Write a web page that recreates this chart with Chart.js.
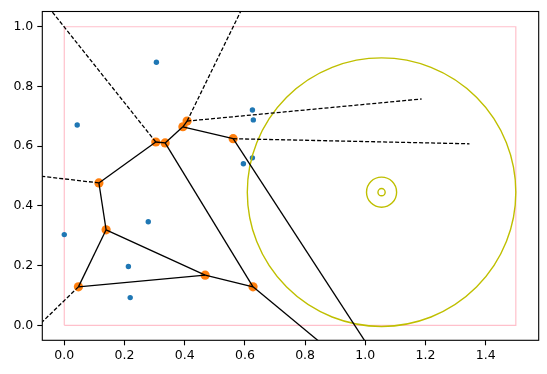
<!DOCTYPE html>
<html>
<head>
<meta charset="utf-8">
<script src="https://cdn.jsdelivr.net/npm/chart.js@4.4.0/dist/chart.umd.min.js"></script>
<style>
  html, body { margin: 0; padding: 0; background: #fff; }
  #voronoi_chart { display: block; }
</style>
</head>
<body>
<canvas id="voronoi_chart" width="547" height="374"></canvas>
<script>
// input points (blue)
const points_x = [0.306, 0.043, 0.625, 0.628, 0.625, 0.595, 0.000, 0.279, 0.213, 0.219];
const points_y = [0.881, 0.671, 0.721, 0.688, 0.561, 0.541, 0.304, 0.347, 0.197, 0.093];

// voronoi vertices (orange); the last one lies below the view
const vertices_x = [0.304, 0.335, 0.394, 0.408, 0.561, 0.115, 0.139, 0.047, 0.468, 0.627, 1.178];
const vertices_y = [0.614, 0.611, 0.665, 0.684, 0.625, 0.477, 0.320, 0.129, 0.168, 0.129, -0.330];

// finite ridges, as vertex index pairs
const ridges = [[5, 0], [0, 1], [1, 2], [2, 3], [2, 4], [1, 9], [4, 10], [9, 10],
                [5, 6], [6, 7], [6, 8], [7, 8], [8, 9]];

// infinite ridges: start vertex and far point
const far_start = [0, 3, 3, 4, 5, 7];
const far_x = [-0.214, 0.675, 1.187, 1.346, -0.167, -0.133];
const far_y = [1.270, 1.235, 0.758, 0.608, 0.510, -0.047];

// bounding box and circles
const box_x = [0, 1.5, 1.5, 0, 0];
const box_y = [0, 0, 1, 1, 0];
const circle_x = [1.054, 1.054, 1.054];
const circle_y = [0.446, 0.446, 0.446];
const circle_r = [0.446, 0.05, 0.012];

const x_ticks = [0.0, 0.2, 0.4, 0.6, 0.8, 1.0, 1.2, 1.4];
const y_ticks = [0.0, 0.2, 0.4, 0.6, 0.8, 1.0];

function xy(xs, ys) {
    return xs.map((x, i) => ({x: x, y: ys[i]}));
}

let datasets = [];

ridges.forEach(function (r) {
    datasets.push({
        data: [{x: vertices_x[r[0]], y: vertices_y[r[0]]}, {x: vertices_x[r[1]], y: vertices_y[r[1]]}],
        showLine: true, borderColor: '#000', borderWidth: 1.3, pointRadius: 0, clip: 0, order: 0,
    });
});

far_start.forEach(function (v, i) {
    datasets.push({
        data: [{x: vertices_x[v], y: vertices_y[v]}, {x: far_x[i], y: far_y[i]}],
        showLine: true, borderColor: '#000', borderWidth: 1.3, borderDash: [4, 2],
        pointRadius: 0, clip: 0, order: 0,
    });
});

datasets.push({
    data: xy(circle_x, circle_y),
    pointRadius: function (ctx) {
        const s = ctx.chart.scales.x;
        return Math.abs(s.getPixelForValue(circle_r[ctx.dataIndex]) - s.getPixelForValue(0));
    },
    pointBackgroundColor: 'rgba(0,0,0,0)',
    pointBorderColor: '#bfbf00',
    pointBorderWidth: 1.4,
    clip: 0, order: 1,
});

datasets.push({
    data: xy(vertices_x, vertices_y),
    pointRadius: 4.6, pointBorderWidth: 0, pointBackgroundColor: '#ff7f0e', clip: 0, order: 2,
});

datasets.push({
    data: xy(points_x, points_y),
    pointRadius: 2.7, pointBorderWidth: 0, pointBackgroundColor: '#1f77b4', clip: 0, order: 3,
});

datasets.push({
    data: xy(box_x, box_y),
    showLine: true, borderColor: '#ffc0cb', borderWidth: 1.2, pointRadius: 0, clip: 0, order: 4,
});

const frame_plugin = {
    id: 'frame',
    afterDraw: function (chart) {
        const a = chart.chartArea;
        const ctx = chart.ctx;
        ctx.save();
        ctx.strokeStyle = '#000';
        ctx.lineWidth = 1.1;
        ctx.strokeRect(a.left, a.top, a.right - a.left, a.bottom - a.top);
        ctx.restore();
    }
};

const tick_font = {family: 'DejaVu Sans', size: 12.5};

new Chart(document.getElementById('voronoi_chart'), {
    type: 'scatter',
    data: {datasets: datasets},
    options: {
        responsive: false,
        animation: false,
        events: [],
        layout: {padding: {left: 0, top: 10.3, right: 8.3, bottom: 0}},
        plugins: {legend: {display: false}, tooltip: {enabled: false}},
        scales: {
            x: {
                type: 'linear', min: -0.073, max: 1.576,
                afterBuildTicks: function (s) { s.ticks = x_ticks.map(v => ({value: v})); },
                afterFit: function (s) { s.height = 33.7; },
                grid: {drawOnChartArea: false, drawTicks: true, tickLength: 5, tickColor: '#000', tickWidth: 1.1},
                border: {display: false},
                ticks: {color: '#000', font: tick_font, padding: 3, maxRotation: 0,
                        callback: v => v.toFixed(1)},
            },
            y: {
                type: 'linear', min: -0.050, max: 1.051,
                afterBuildTicks: function (s) { s.ticks = y_ticks.map(v => ({value: v})); },
                afterFit: function (s) { s.width = 42.3; },
                grid: {drawOnChartArea: false, drawTicks: true, tickLength: 5, tickColor: '#000', tickWidth: 1.1},
                border: {display: false},
                ticks: {color: '#000', font: tick_font, padding: 4,
                        callback: v => v.toFixed(1)},
            },
        },
    },
    plugins: [frame_plugin],
});
</script>
</body>
</html>
